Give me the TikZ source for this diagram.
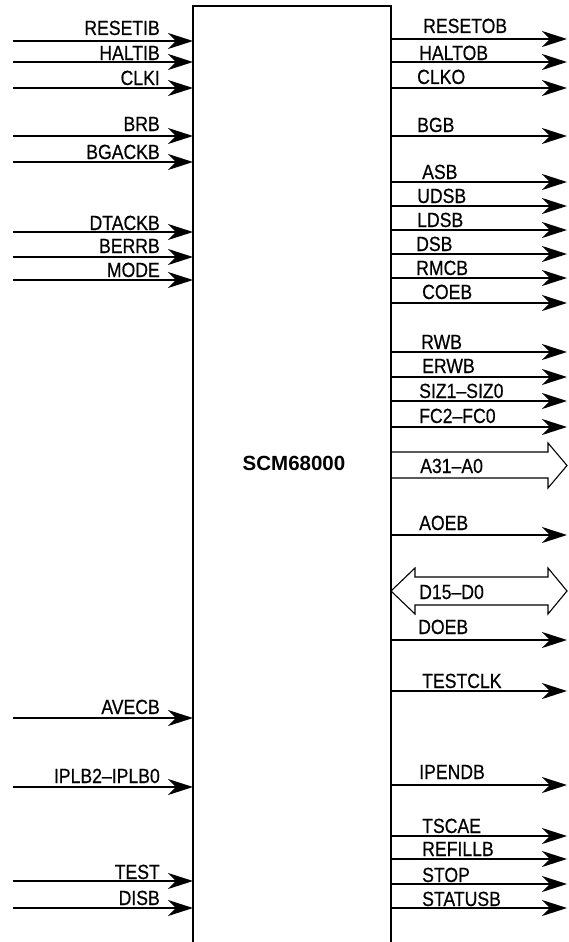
\documentclass[tikz,border=0pt]{standalone}
\usepackage{fontspec}
\setmainfont{Liberation Sans}[FakeStretch=0.86,FakeBold=0.5]
\newfontfamily\titlefont{Liberation Sans Bold}
\usetikzlibrary{arrows.meta}
\tikzset{
  sig/.style={line width=2.3pt,-{Stealth[length=25pt,width=16pt,inset=8pt]}},
  bus/.style={line width=1.1pt,line join=miter},
  chipedge/.style={line width=2.5pt,line join=miter},
  lbl/.style={inner sep=0pt,font=\fontsize{20.5}{22}\selectfont},
}
\begin{document}
\begin{tikzpicture}[x=1pt,y=-1pt]
\useasboundingbox (0,0) rectangle (568,942);
% chip outline
\coordinate (chipBL) at (193,944);
\coordinate (chipTL) at (193,6);
\coordinate (chipTR) at (391,6);
\coordinate (chipBR) at (391,944);
\draw[chipedge] (chipBL) -- (chipTL) -- (chipTR) -- (chipBR);
\node[inner sep=0pt,font=\titlefont\fontsize{20.5}{21}\selectfont] (chip) at (294,463) {SCM68000};
% inputs
\foreach \i/\y/\by/\t in {
  a/41/35/RESETIB, b/62/60/HALTIB, c/88/85/CLKI, d/136/131/BRB,
  e/162/159/BGACKB, f/232/230/DTACKB, g/257/253/BERRB, h/280/277/MODE,
  i/718/714/AVECB, j/787/783/IPLB2\textendash IPLB0, k/881/879/TEST, l/908/905/DISB}{
  \coordinate (in\i-s) at (13,\y);
  \coordinate (in\i-e) at (193,\y);
  \draw[sig] (in\i-s) -- (in\i-e);
  \node[lbl,anchor=base east] (in\i-l) at (160,\by) {\t};
}
% outputs
\foreach \i/\y/\lx/\by/\t in {
  a/39/423/33/RESETOB, b/62/419/60/HALTOB, c/88/417/84/CLKO, d/136/417/132/BGB,
  e/182/422/179/ASB, f/206/417/203/UDSB, g/230/417/227/LDSB, h/254/416/251/DSB,
  i/278/416/275/RMCB, j/303/422/299/COEB, k/352/421/349/RWB, l/377/422/373/ERWB,
  m/401/419/398/SIZ1\textendash SIZ0, n/427/419/423/FC2\textendash FC0,
  o/535/419/530/AOEB, p/640/418/634/DOEB, q/691/422/688/TESTCLK,
  r/785/419/779/IPENDB, s/836/422/833/TSCAE, t/859/422/856/REFILLB,
  u/884/422/882/STOP, v/908/422/906/STATUSB}{
  \coordinate (out\i-s) at (391,\y);
  \coordinate (out\i-e) at (567,\y);
  \draw[sig] (out\i-s) -- (out\i-e);
  \node[lbl,anchor=base west] (out\i-l) at (\lx,\by) {\t};
}
% address bus (output)
\coordinate (abusA) at (391,452);
\coordinate (abusB) at (391,478);
\draw[bus] (abusA) -- (548,452) -- (548,443) -- (567,465.5) -- (548,488) -- (548,478) -- (abusB);
\node[lbl,anchor=base west] (abus-l) at (420,473) {A31\textendash A0};
% data bus (bidirectional)
\coordinate (dbusL) at (391,591);
\draw[bus] (dbusL) -- (415,568) -- (415,577) -- (548,577) -- (548,568) -- (567,591)
  -- (548,614) -- (548,605) -- (415,605) -- (415,614) -- cycle;
\node[lbl,anchor=base west] (dbus-l) at (419,599) {D15\textendash D0};
\end{tikzpicture}
\end{document}
